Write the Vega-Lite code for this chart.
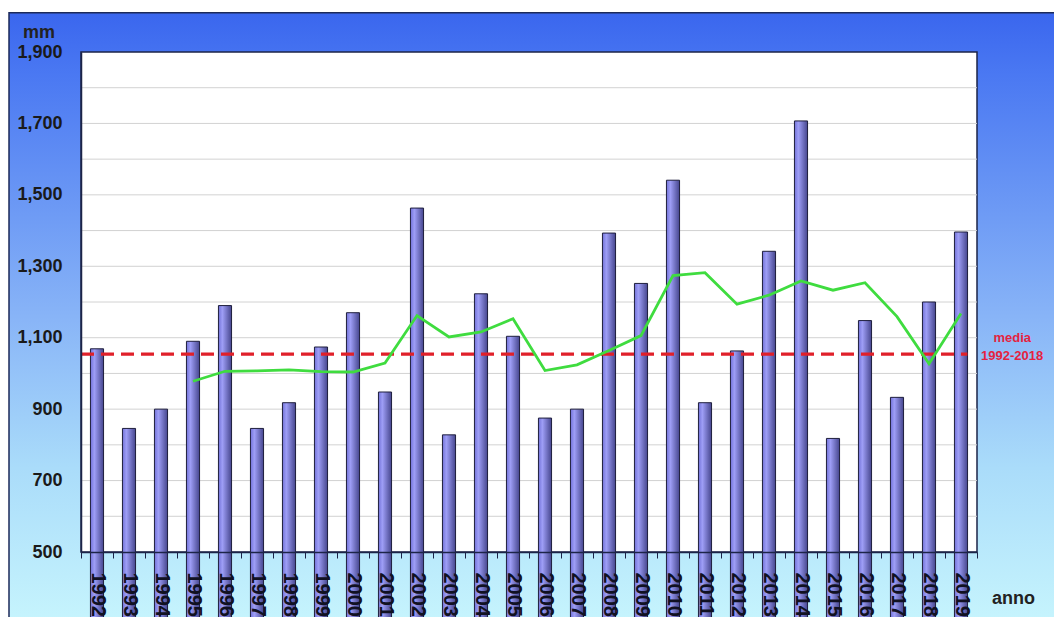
{
  "$schema": "https://vega.github.io/schema/vega-lite/v6.json",
  "width": 896,
  "height": 500,
  "autosize": {"type": "none"},
  "padding": {"left": 81, "top": 52, "right": 77, "bottom": 65},
  "background": "#ffffff",
  "config": {"view": {"stroke": null}, "font": "Liberation Sans", "axis": {"zindex": 1}},
  "datasets": {
    "rain": [
      {"year": 1992, "mm": 1069, "ma": null},
      {"year": 1993, "mm": 846, "ma": null},
      {"year": 1994, "mm": 900, "ma": null},
      {"year": 1995, "mm": 1090, "ma": 978},
      {"year": 1996, "mm": 1190, "ma": 1006},
      {"year": 1997, "mm": 846, "ma": 1007},
      {"year": 1998, "mm": 918, "ma": 1010},
      {"year": 1999, "mm": 1074, "ma": 1005},
      {"year": 2000, "mm": 1170, "ma": 1004},
      {"year": 2001, "mm": 948, "ma": 1029},
      {"year": 2002, "mm": 1463, "ma": 1162},
      {"year": 2003, "mm": 828, "ma": 1102},
      {"year": 2004, "mm": 1223, "ma": 1116},
      {"year": 2005, "mm": 1104, "ma": 1153},
      {"year": 2006, "mm": 875, "ma": 1008},
      {"year": 2007, "mm": 900, "ma": 1024},
      {"year": 2008, "mm": 1393, "ma": 1064},
      {"year": 2009, "mm": 1252, "ma": 1106},
      {"year": 2010, "mm": 1541, "ma": 1274},
      {"year": 2011, "mm": 918, "ma": 1282},
      {"year": 2012, "mm": 1063, "ma": 1194},
      {"year": 2013, "mm": 1342, "ma": 1219},
      {"year": 2014, "mm": 1707, "ma": 1259},
      {"year": 2015, "mm": 818, "ma": 1233},
      {"year": 2016, "mm": 1148, "ma": 1254},
      {"year": 2017, "mm": 933, "ma": 1159},
      {"year": 2018, "mm": 1200, "ma": 1027},
      {"year": 2019, "mm": 1396, "ma": 1168}
    ],
    "one": [{}]
  },
  "resolve": {"scale": {"x": "independent"}},
  "layer": [
    {
      "data": {"name": "one"},
      "layer": [
        {
          "mark": {
            "type": "rect",
            "stroke": "#1c2a5a",
            "strokeWidth": 1.5,
            "fill": {
              "gradient": "linear",
              "x1": 0, "y1": 0, "x2": 0, "y2": 1,
              "stops": [
                {"offset": 0, "color": "#3a66ee"},
                {"offset": 0.1, "color": "#4a78f2"},
                {"offset": 0.5, "color": "#88b4f7"},
                {"offset": 0.75, "color": "#aadcfa"},
                {"offset": 1, "color": "#c6f4fd"}
              ]
            }
          },
          "encoding": {
            "x": {"datum": 1989.25, "type": "quantitative", "scale": {"domain": [1991.5, 2019.5], "nice": false, "zero": false}, "axis": null},
            "x2": {"datum": 2022.5},
            "y": {"datum": 2010, "type": "quantitative", "scale": {"domain": [500, 1900], "nice": false, "zero": false}},
            "y2": {"datum": 310}
          }
        },
        {
          "mark": {"type": "rect", "fill": "#ffffff", "stroke": "#1c2448", "strokeWidth": 1.5},
          "encoding": {
            "x": {"datum": 1991.5, "type": "quantitative", "scale": {"domain": [1991.5, 2019.5], "nice": false, "zero": false}, "axis": null},
            "x2": {"datum": 2019.5},
            "y": {"datum": 500, "type": "quantitative", "scale": {"domain": [500, 1900], "nice": false, "zero": false}},
            "y2": {"datum": 1900}
          }
        },
        {
          "encoding": {
            "x": {"datum": 1991.5, "type": "quantitative", "scale": {"domain": [1991.5, 2019.5], "nice": false, "zero": false}, "axis": null},
            "x2": {"datum": 2019.5}
          },
          "layer": [
            {"mark": {"type": "rule", "color": "#d2d2d2", "strokeWidth": 1}, "encoding": {"y": {"datum": 600, "type": "quantitative", "scale": {"domain": [500, 1900], "nice": false, "zero": false}}}},
            {"mark": {"type": "rule", "color": "#d2d2d2", "strokeWidth": 1}, "encoding": {"y": {"datum": 700, "type": "quantitative", "scale": {"domain": [500, 1900], "nice": false, "zero": false}}}},
            {"mark": {"type": "rule", "color": "#d2d2d2", "strokeWidth": 1}, "encoding": {"y": {"datum": 800, "type": "quantitative", "scale": {"domain": [500, 1900], "nice": false, "zero": false}}}},
            {"mark": {"type": "rule", "color": "#d2d2d2", "strokeWidth": 1}, "encoding": {"y": {"datum": 900, "type": "quantitative", "scale": {"domain": [500, 1900], "nice": false, "zero": false}}}},
            {"mark": {"type": "rule", "color": "#d2d2d2", "strokeWidth": 1}, "encoding": {"y": {"datum": 1000, "type": "quantitative", "scale": {"domain": [500, 1900], "nice": false, "zero": false}}}},
            {"mark": {"type": "rule", "color": "#d2d2d2", "strokeWidth": 1}, "encoding": {"y": {"datum": 1100, "type": "quantitative", "scale": {"domain": [500, 1900], "nice": false, "zero": false}}}},
            {"mark": {"type": "rule", "color": "#d2d2d2", "strokeWidth": 1}, "encoding": {"y": {"datum": 1200, "type": "quantitative", "scale": {"domain": [500, 1900], "nice": false, "zero": false}}}},
            {"mark": {"type": "rule", "color": "#d2d2d2", "strokeWidth": 1}, "encoding": {"y": {"datum": 1300, "type": "quantitative", "scale": {"domain": [500, 1900], "nice": false, "zero": false}}}},
            {"mark": {"type": "rule", "color": "#d2d2d2", "strokeWidth": 1}, "encoding": {"y": {"datum": 1400, "type": "quantitative", "scale": {"domain": [500, 1900], "nice": false, "zero": false}}}},
            {"mark": {"type": "rule", "color": "#d2d2d2", "strokeWidth": 1}, "encoding": {"y": {"datum": 1500, "type": "quantitative", "scale": {"domain": [500, 1900], "nice": false, "zero": false}}}},
            {"mark": {"type": "rule", "color": "#d2d2d2", "strokeWidth": 1}, "encoding": {"y": {"datum": 1600, "type": "quantitative", "scale": {"domain": [500, 1900], "nice": false, "zero": false}}}},
            {"mark": {"type": "rule", "color": "#d2d2d2", "strokeWidth": 1}, "encoding": {"y": {"datum": 1700, "type": "quantitative", "scale": {"domain": [500, 1900], "nice": false, "zero": false}}}},
            {"mark": {"type": "rule", "color": "#d2d2d2", "strokeWidth": 1}, "encoding": {"y": {"datum": 1800, "type": "quantitative", "scale": {"domain": [500, 1900], "nice": false, "zero": false}}}}
          ]
        }
      ]
    },
    {
      "data": {"name": "rain"},
      "mark": {
        "type": "bar",
        "width": {"band": 0.41},
        "stroke": "#1e1e3c",
        "strokeWidth": 1,
        "fill": {
          "gradient": "linear",
          "x1": 0, "y1": 0, "x2": 1, "y2": 0,
          "stops": [
            {"offset": 0, "color": "#7272d8"},
            {"offset": 0.3, "color": "#9e9ef6"},
            {"offset": 1, "color": "#46468e"}
          ]
        }
      },
      "encoding": {
        "x": {
          "field": "year",
          "type": "ordinal",
          "scale": {"paddingInner": 0, "paddingOuter": 0},
          "axis": {
            "title": "anno",
            "titleX": 932,
            "titleY": 51,
            "titleAlign": "center",
            "titleBaseline": "alphabetic",
            "titleAngle": 0,
            "titleFontSize": 18,
            "titleFontWeight": "bold",
            "titleColor": "#222222",
            "labelAngle": 90,
            "labelAlign": "left",
            "labelBaseline": "middle",
            "labelFontSize": 20,
            "labelFontWeight": "bold",
            "labelColor": "#111122",
            "labelPadding": 14,
            "labelOverlap": false,
            "tickBand": "extent",
            "tickSize": 6,
            "tickColor": "#1c2448",
            "domainColor": "#1c2448",
            "domainWidth": 1.5,
            "grid": false,
            "zindex": 1
          }
        },
        "y": {
          "field": "mm",
          "type": "quantitative",
          "scale": {"domain": [500, 1900], "nice": false, "zero": false},
          "axis": {
            "title": "mm",
            "titleX": -42.5,
            "titleY": -14.5,
            "titleAngle": 0,
            "titleAlign": "center",
            "titleBaseline": "alphabetic",
            "titleFontSize": 18,
            "titleFontWeight": "bold",
            "titleColor": "#222222",
            "values": [500, 700, 900, 1100, 1300, 1500, 1700, 1900],
            "format": ",.0f",
            "labelFontSize": 18,
            "labelFontWeight": "bold",
            "labelColor": "#1a1a1a",
            "labelPadding": 19,
            "ticks": false,
            "grid": false,
            "domainColor": "#1c2448",
            "domainWidth": 1.5,
            "zindex": 1
          }
        }
      }
    },
    {
      "data": {"name": "one"},
      "layer": [
        {
          "mark": {"type": "rule", "color": "#e0202a", "strokeWidth": 3.2, "strokeDash": [13, 7]},
          "encoding": {
            "x": {"datum": 1991.5, "type": "quantitative", "scale": {"domain": [1991.5, 2019.5], "nice": false, "zero": false}, "axis": null},
            "x2": {"datum": 2019.2},
            "y": {"datum": 1054, "type": "quantitative", "scale": {"domain": [500, 1900], "nice": false, "zero": false}}
          }
        },
        {
          "mark": {"type": "text", "text": ["media", "1992-2018"], "align": "center", "baseline": "alphabetic", "lineHeight": 18, "fontSize": 13, "fontWeight": "bold", "color": "#e5223f"},
          "encoding": {
            "x": {"datum": 2020.6, "type": "quantitative", "scale": {"domain": [1991.5, 2019.5], "nice": false, "zero": false}, "axis": null},
            "y": {"datum": 1089, "type": "quantitative", "scale": {"domain": [500, 1900], "nice": false, "zero": false}}
          }
        }
      ]
    },
    {
      "data": {"name": "rain"},
      "mark": {"type": "line", "color": "#3fdc3f", "strokeWidth": 2.8},
      "encoding": {
        "x": {"field": "year", "type": "ordinal", "scale": {"paddingInner": 0, "paddingOuter": 0}, "axis": null},
        "y": {"field": "ma", "type": "quantitative", "scale": {"domain": [500, 1900], "nice": false, "zero": false}}
      }
    }
  ]
}
